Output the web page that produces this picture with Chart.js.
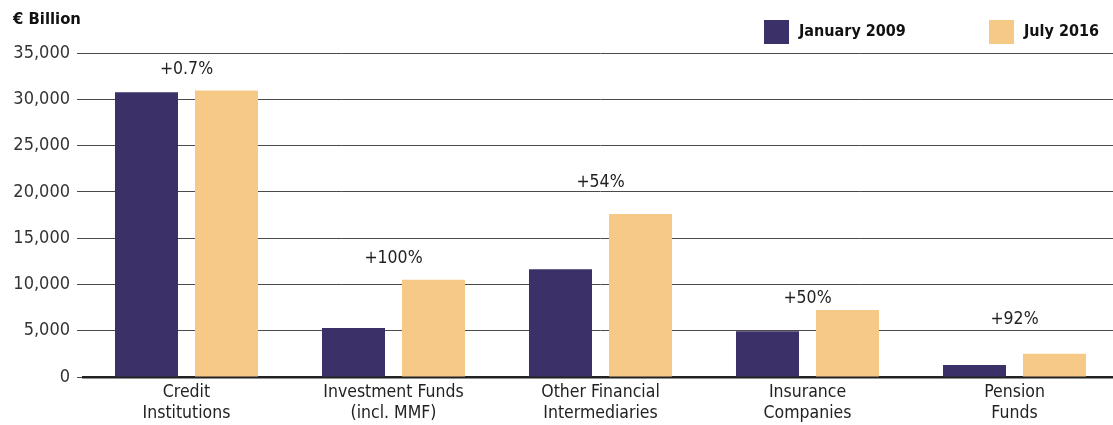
<!DOCTYPE html>
<html>
<head>
<meta charset="utf-8">
<script src="https://cdn.jsdelivr.net/npm/chart.js@4/dist/chart.umd.min.js"></script>
<style>
  html, body { margin: 0; padding: 0; background: #fff; overflow: hidden; }
  #wrap { position: relative; width: 1118px; height: 425px; }
</style>
</head>
<body>
<div id="wrap"><canvas id="c"></canvas></div>
<script>
// ---- data ----
const categories = [
  ['Credit', 'Institutions'],
  ['Investment Funds', '(incl. MMF)'],
  ['Other Financial', 'Intermediaries'],
  ['Insurance', 'Companies'],
  ['Pension', 'Funds']
];
const seriesNames = ['January 2009', 'July 2016'];
const jan2009 = [30750, 5300, 11650, 4950, 1300];
const jul2016 = [30950, 10500, 17600, 7250, 2500];
const changeLabels = ['+0.7%', '+100%', '+54%', '+50%', '+92%'];
const changeLabelLevels = [33250, 12850, 21050, 8530, 6260];
const yTicks = [0, 5000, 10000, 15000, 20000, 25000, 30000, 35000];
const unitLabel = '€ Billion';

// ---- styles ----
const FONT = "'DejaVu Sans Condensed', 'Liberation Sans Narrow', sans-serif";
const COLORS = ['#3b3068', '#f7c987'];
const TEXT = '#222222';

const overlay = {
  id: 'overlay',
  afterDatasetsDraw(chart) {
    const ctx = chart.ctx;
    const x = chart.scales.x, y = chart.scales.y;
    ctx.save();
    // change labels
    ctx.font = '17.5px ' + FONT;
    ctx.fillStyle = TEXT;
    ctx.textAlign = 'center';
    ctx.textBaseline = 'middle';
    changeLabels.forEach((t, i) => {
      ctx.fillText(t, x.getPixelForValue(i), y.getPixelForValue(changeLabelLevels[i]));
    });
    // unit title
    ctx.font = 'bold 16.5px ' + FONT;
    ctx.textAlign = 'left';
    ctx.fillStyle = '#111';
    ctx.fillText(unitLabel, 13, 20);
    // legend
    const legendX = [764, 989];
    chart.data.datasets.forEach((ds, i) => {
      ctx.fillStyle = ds.backgroundColor;
      ctx.fillRect(legendX[i], 20, 25, 24);
      ctx.fillStyle = '#111';
      ctx.font = 'bold 16px ' + FONT;
      ctx.fillText(ds.label, legendX[i] + 35, 32);
    });
    ctx.restore();
  }
};

new Chart(document.getElementById('c'), {
  type: 'bar',
  data: {
    labels: categories,
    datasets: [
      { label: seriesNames[0], data: jan2009, backgroundColor: COLORS[0] },
      { label: seriesNames[1], data: jul2016, backgroundColor: COLORS[1] }
    ]
  },
  options: {
    responsive: true,
    maintainAspectRatio: false,
    animation: false,
    layout: { padding: { top: 53, left: 0, right: 0, bottom: 0 } },
    datasets: { bar: { categoryPercentage: 0.773, barPercentage: 0.7875 } },
    plugins: { legend: { display: false }, tooltip: { enabled: false }, title: { display: false } },
    scales: {
      x: {
        grid: { display: false, drawTicks: false },
        border: { display: true, color: '#222', width: 2.5 },
        ticks: {
          color: TEXT, padding: 5, maxRotation: 0, autoSkip: false,
          font: { family: FONT, size: 17.5, lineHeight: 1.2 }
        },
        afterFit(s) { s.height = 48; }
      },
      y: {
        min: 0, max: 35000,
        afterBuildTicks(s) { s.ticks = yTicks.map(v => ({ value: v })); },
        grid: { color: '#4a4a4a', lineWidth: 1, drawTicks: true, tickLength: 6 },
        border: { display: false },
        ticks: {
          color: '#333', padding: 7,
          font: { family: FONT, size: 18 },
          callback: v => v.toLocaleString('en-US')
        },
        afterFit(s) { s.width = 83; }
      }
    }
  },
  plugins: [overlay]
});
</script>
</body>
</html>
